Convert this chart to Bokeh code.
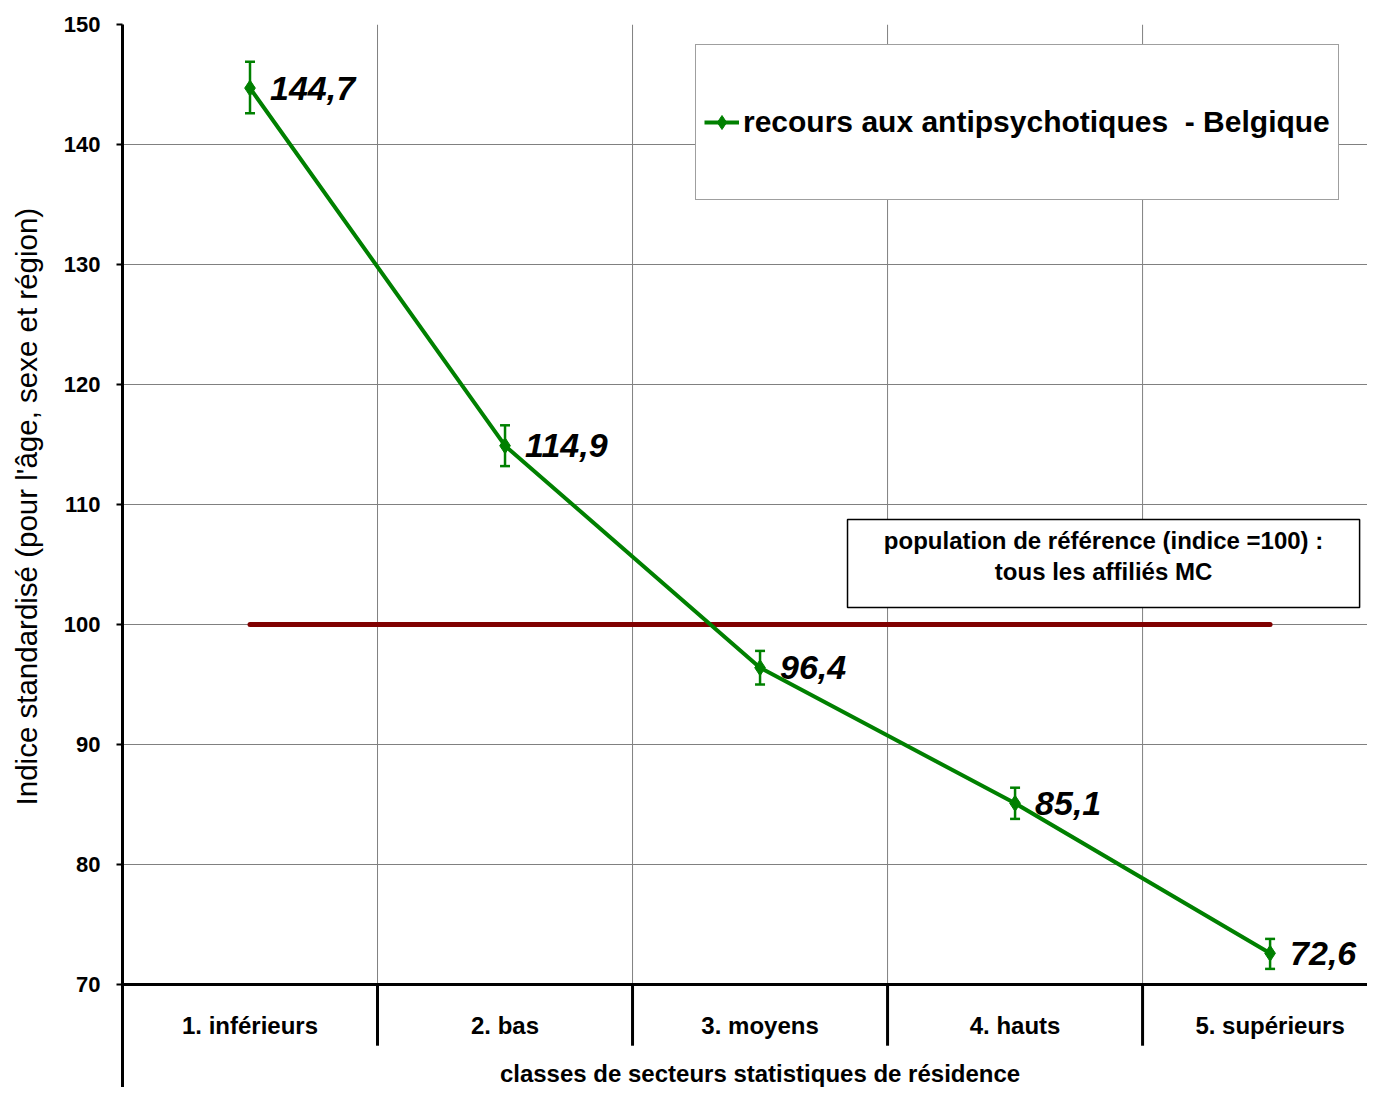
import math
from bokeh.plotting import figure
from bokeh.layouts import row
from bokeh.models import (Range1d, FixedTicker, Span, Whisker, TeeHead, ColumnDataSource,
                          Legend, LegendItem)
from bokeh.core.properties import value
from bokeh.embed import file_html
from bokeh.resources import INLINE

# ---------------- data ----------------
categories = ["1. inférieurs", "2. bas", "3. moyens", "4. hauts", "5. supérieurs"]
values = [144.7, 114.9, 96.4, 85.1, 72.6]
err_low = [142.6, 113.2, 95.0, 83.8, 71.3]
err_high = [146.9, 116.6, 97.8, 86.4, 73.8]
reference = [100, 100, 100, 100, 100]
y_ticks = [70, 80, 90, 100, 110, 120, 130, 140, 150]
series_name = "recours aux antipsychotiques  - Belgique"
ref_note = ["population de référence (indice =100) :", "tous les affiliés MC"]
x_title = "classes de secteurs statistiques de résidence"
y_title = "Indice standardisé (pour l'âge, sexe et région)"

FONT = "Liberation Sans"
GREEN = "#008000"
DARKRED = "#800000"

TOTAL_W, TOTAL_H = 1367, 1087
TITLE_W = 45

xs = list(range(1, len(categories) + 1))
bounds = [x + 0.5 for x in xs[:-1]]
labels = [f"{v:.1f}".replace(".", ",") for v in values]

# ---------- narrow figure holding the vertical axis title ----------
pt = figure(width=TITLE_W, height=TOTAL_H, output_backend="svg", toolbar_location=None,
            x_axis_location=None, y_axis_location=None, tools="",
            x_range=Range1d(0, TITLE_W), y_range=Range1d(0, TOTAL_H),
            min_border_left=0, min_border_right=0, min_border_top=0, min_border_bottom=0)
pt.title.visible = False
pt.outline_line_color = None
pt.xgrid.visible = False
pt.ygrid.visible = False
pt.text(x=[26], y=[TOTAL_H - 493], text=[y_title], angle=math.pi / 2,
        text_font=value(FONT), text_font_size="29.5px", text_color="black",
        text_align="center", text_baseline="middle")

# ---------- main figure ----------
p = figure(width=TOTAL_W - TITLE_W, height=TOTAL_H, output_backend="svg", toolbar_location=None,
           x_axis_location=None, tools="",
           x_range=Range1d(0.5, 5.382), y_range=Range1d(61.417, 150),
           min_border_left=122 - TITLE_W, min_border_right=0, min_border_top=24, min_border_bottom=0)
p.title.visible = False
p.outline_line_color = None
p.background_fill_color = "white"
p.border_fill_color = "white"

ax = p.yaxis[0]
ax.ticker = FixedTicker(ticks=y_ticks)
ax.axis_line_width = 3
ax.axis_line_color = "black"
ax.major_tick_line_width = 2
ax.major_tick_line_color = "black"
ax.major_tick_out = 6
ax.major_tick_in = 0
ax.minor_tick_line_color = None
ax.major_label_standoff = 16
ax.major_label_text_font = FONT
ax.major_label_text_font_style = "bold"
ax.major_label_text_font_size = "22px"
ax.major_label_text_color = "black"

p.ygrid.ticker = FixedTicker(ticks=y_ticks)
p.ygrid.grid_line_color = "#808080"
p.ygrid.grid_line_width = 1
p.xgrid.visible = False

# vertical grid lines between categories
p.segment(x0=bounds, y0=[y_ticks[0]] * len(bounds), x1=bounds, y1=[y_ticks[-1]] * len(bounds),
          line_color="#808080", line_width=1)
# category dividers below the axis
p.segment(x0=bounds, y0=[y_ticks[0]] * len(bounds), x1=bounds, y1=[y_ticks[0] - 5.1] * len(bounds),
          line_color="black", line_width=3)
# x axis line
p.add_layout(Span(location=y_ticks[0], dimension="width", line_color="black", line_width=3))

# category labels and x title
p.text(x=xs, y=[y_ticks[0] - 3.42] * len(xs), text=categories,
       text_font=value(FONT), text_font_style="bold", text_font_size="24px",
       text_align="center", text_baseline="middle", text_color="black")
p.text(x=[3], y=[y_ticks[0] - 7.42], text=[x_title],
       text_font=value(FONT), text_font_style="bold", text_font_size="24px",
       text_align="center", text_baseline="middle", text_color="black")

# reference note box
p.quad(left=[3.343], right=[5.351], top=[108.75], bottom=[101.42],
       fill_color="white", line_color="black", line_width=1.5)
p.text(x=[4.347, 4.347], y=[107.0, 104.42], text=ref_note,
       text_font=value(FONT), text_font_style="bold", text_font_size="24px",
       text_align="center", text_baseline="middle", text_color="black")

# reference line (index = 100)
p.line(xs, reference, line_color=DARKRED, line_width=5, line_cap="round")

# series
src = ColumnDataSource(dict(x=xs, y=values, lo=err_low, hi=err_high, lab=labels))
ln = p.line("x", "y", source=src, line_color=GREEN, line_width=4)
p.add_layout(Whisker(source=src, base="x", lower="lo", upper="hi",
                     line_color=GREEN, line_width=2.5,
                     upper_head=TeeHead(size=10, line_color=GREEN, line_width=2.5),
                     lower_head=TeeHead(size=10, line_color=GREEN, line_width=2.5)))
sc = p.scatter("x", "y", source=src, marker="diamond", size=16,
               fill_color=GREEN, line_color=GREEN)
p.text(x="x", y="y", text="lab", source=src, x_offset=20,
       text_font=value(FONT), text_font_style="bold italic", text_font_size="34px",
       text_align="left", text_baseline="middle", text_color="black")

# legend
legend = Legend(items=[LegendItem(label=series_name, renderers=[ln, sc])],
                location=(573, TOTAL_H - 200), margin=0, padding=8,
                glyph_width=35, glyph_height=138, label_height=138, label_standoff=4,
                label_text_font=FONT, label_text_font_style="bold", label_text_font_size="30px",
                label_text_color="black", border_line_color="#404040", border_line_width=1,
                background_fill_color="white", background_fill_alpha=1.0)
p.add_layout(legend, "center")

layout = row(pt, p, spacing=0)
open("out.html", "w").write(file_html(layout, INLINE))
